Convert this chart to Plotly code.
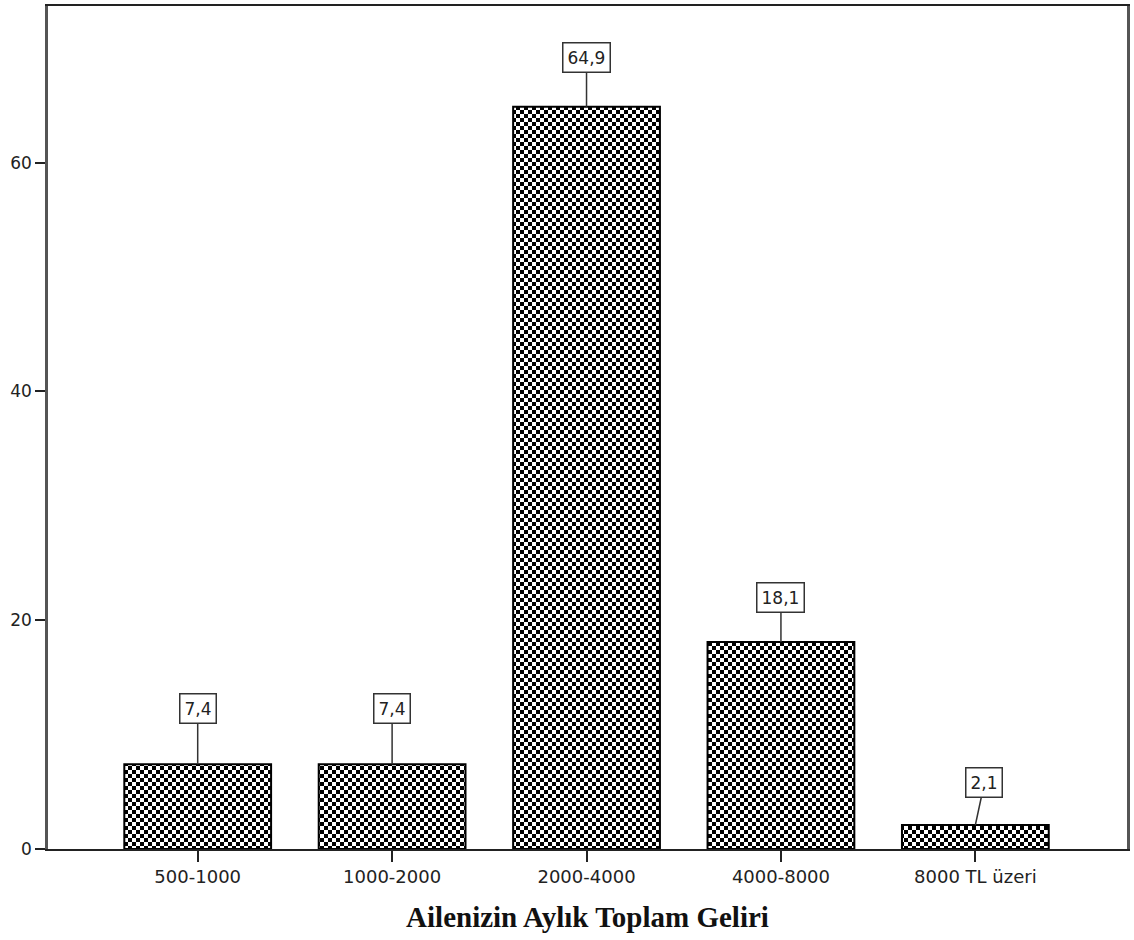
import plotly.graph_objects as go

categories = ["500-1000", "1000-2000", "2000-4000", "4000-8000", "8000 TL üzeri"]
values = [7.4, 7.4, 64.9, 18.1, 2.1]
value_labels = ["7,4", "7,4", "64,9", "18,1", "2,1"]
y_ticks = [0, 20, 40, 60]

# label box offsets (pixels) relative to bar top
label_dx = [0, 0, 0, 0, 9]
label_dy = [-56, -56, -49, -44, -42]

SANS = "DejaVu Sans, Verdana, sans-serif"
SERIF = "Liberation Serif, Times New Roman, serif"

fig = go.Figure()
fig.add_trace(go.Bar(
    x=categories,
    y=values,
    width=0.755,
    marker=dict(
        color="white",
        line=dict(color="black", width=2),
        pattern=dict(shape="x", fgcolor="black", bgcolor="white", size=8, solidity=0.5),
    ),
    hoverinfo="skip",
))

for cat, v, lab, dx, dy in zip(categories, values, value_labels, label_dx, label_dy):
    fig.add_annotation(
        x=cat, y=v, text=lab,
        showarrow=True, arrowhead=0, arrowwidth=1.5, arrowcolor="#333",
        ax=dx, ay=dy,
        bordercolor="#333", borderwidth=1.5, borderpad=4, bgcolor="white",
        font=dict(family=SANS, size=17, color="#222"),
    )

fig.update_layout(
    width=1134, height=940,
    margin=dict(l=48, r=6, t=4, b=91),
    paper_bgcolor="white", plot_bgcolor="white",
    showlegend=False,
    xaxis=dict(
        type="category",
        range=[-0.77, 4.78],
        showline=True, linecolor="#222", linewidth=1.5, mirror=True,
        ticks="outside", ticklen=11, tickwidth=1.5, tickcolor="#222",
        tickfont=dict(family=SANS, size=18, color="#222"),
        showgrid=False,
        title=dict(text="<b>Ailenizin Aylık Toplam Geliri</b>",
                   font=dict(family=SERIF, size=29, color="#111"),
                   standoff=20),
    ),
    yaxis=dict(
        range=[0, 73.7],
        tickvals=y_ticks,
        showline=True, linecolor="#555", linewidth=2.5, mirror=True,
        ticks="outside", ticklen=10, tickwidth=1.5, tickcolor="#222",
        tickfont=dict(family=SANS, size=17, color="#222"),
        showgrid=False, zeroline=False,
    ),
)

post = """
document.body.style.margin = '0';
var gd = document.getElementById('{plot_id}');
function checker(){
  var ns = 'http://www.w3.org/2000/svg';
  gd.querySelectorAll('pattern').forEach(function(p){
    p.setAttribute('width', 8); p.setAttribute('height', 8);
    while (p.firstChild) p.removeChild(p.firstChild);
    var specs = [[0,0,8,8,'white'],[0,0,4,4,'black'],[4,4,4,4,'black']];
    specs.forEach(function(s){
      var r = document.createElementNS(ns, 'rect');
      r.setAttribute('x', s[0]); r.setAttribute('y', s[1]);
      r.setAttribute('width', s[2]); r.setAttribute('height', s[3]);
      r.setAttribute('fill', s[4]);
      p.appendChild(r);
    });
  });
}
checker();
gd.on('plotly_afterplot', checker);
"""

fig.write_html("out.html", post_script=post, config={"displayModeBar": False})
